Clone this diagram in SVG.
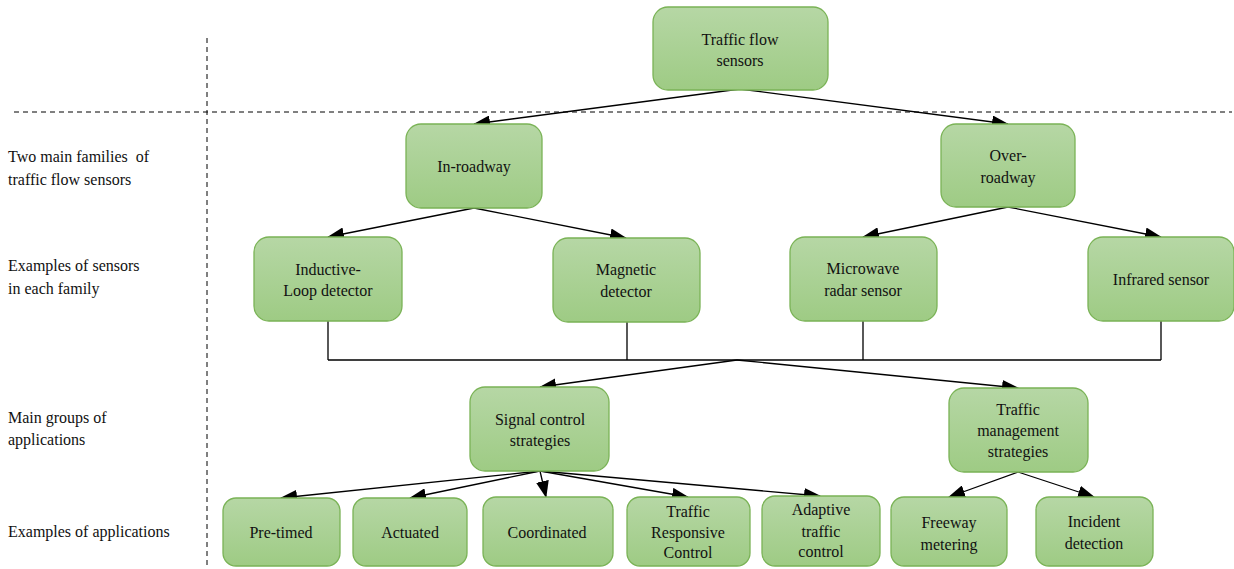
<svg xmlns="http://www.w3.org/2000/svg" width="1234" height="569" viewBox="0 0 1234 569">
<style>
.n{stroke:#7ab356;stroke-width:1.3;fill:url(#g)}
.t{font-family:"Times New Roman",Times,"Liberation Serif","Noto Serif",serif;font-size:16px;fill:#111;text-anchor:middle}
.l{font-family:"Times New Roman",Times,"Liberation Serif","Noto Serif",serif;font-size:16px;fill:#111}
.c{stroke:#000;stroke-width:1.3;fill:none}
.a{marker-end:url(#ar)}
.d{stroke:#000;stroke-width:1;stroke-dasharray:5,4;fill:none}
</style>
<defs>
<linearGradient id="g" x1="0" y1="0" x2="0" y2="1">
<stop offset="0" stop-color="#b6d7a5"/>
<stop offset="1" stop-color="#9ecb84"/>
</linearGradient>
<marker id="ar" markerWidth="17" markerHeight="13" refX="16" refY="6.5" orient="auto" markerUnits="userSpaceOnUse">
<path d="M0,0 L17,6.5 L0,13 z" fill="#000"/>
</marker>
</defs>
<rect width="1234" height="569" fill="#fff"/>
<g id="guides">
<line class="d" x1="207" y1="38" x2="207" y2="569"/>
<line class="d" x1="14" y1="112" x2="1232" y2="112"/>
</g>
<g id="labels">
<text class="l" x="8" y="162" xml:space="preserve">Two main families  of</text>
<text class="l" x="8" y="185">traffic flow sensors</text>
<text class="l" x="8" y="271">Examples of sensors</text>
<text class="l" x="8" y="294">in each family</text>
<text class="l" x="8" y="423">Main groups of</text>
<text class="l" x="8" y="445">applications</text>
<text class="l" x="8" y="537">Examples of applications</text>
</g>
<g id="connectors">
<path class="c a" d="M740,89 L474,124"/>
<path class="c a" d="M740,89 L1008,124"/>
<path class="c a" d="M474,208 L328,237"/>
<path class="c a" d="M474,208 L626,238"/>
<path class="c a" d="M1008,207 L863,237"/>
<path class="c a" d="M1008,207 L1161,237"/>
<path class="c" d="M328,321 V360 M627,322 V360 M863,321 V360 M1161,321 V360 M328,360 H1161"/>
<path class="c a" d="M737,360 L540,387"/>
<path class="c a" d="M737,360 L1018,388"/>
<path class="c a" d="M540,471 L281,498"/>
<path class="c a" d="M540,471 L410,498"/>
<path class="c a" d="M540,471 L546,497"/>
<path class="c a" d="M540,471 L688,497"/>
<path class="c a" d="M540,471 L820,496"/>
<path class="c a" d="M1018,472 L949,497"/>
<path class="c a" d="M1018,472 L1094,497"/>
</g>
<g id="n-traffic-flow-sensors"><rect class="n" x="653" y="7" width="175" height="83" rx="15"/><text class="t" x="740" y="45">Traffic flow</text><text class="t" x="740" y="66">sensors</text></g>
<g id="n-in-roadway"><rect class="n" x="406" y="124" width="136" height="84" rx="15"/><text class="t" x="474" y="172">In-roadway</text></g>
<g id="n-over-roadway"><rect class="n" x="941" y="124" width="134" height="83" rx="15"/><text class="t" x="1008" y="161">Over-</text><text class="t" x="1008" y="183">roadway</text></g>
<g id="n-inductive"><rect class="n" x="254" y="237" width="148" height="84" rx="15"/><text class="t" x="328" y="275">Inductive-</text><text class="t" x="328" y="296">Loop detector</text></g>
<g id="n-magnetic"><rect class="n" x="553" y="238" width="147" height="84" rx="15"/><text class="t" x="626" y="275">Magnetic</text><text class="t" x="626" y="297">detector</text></g>
<g id="n-microwave"><rect class="n" x="790" y="237" width="147" height="84" rx="15"/><text class="t" x="863" y="274">Microwave</text><text class="t" x="863" y="296">radar sensor</text></g>
<g id="n-infrared"><rect class="n" x="1088" y="237" width="146" height="84" rx="15"/><text class="t" x="1161" y="285">Infrared sensor</text></g>
<g id="n-signal-control"><rect class="n" x="470" y="387" width="139" height="84" rx="15"/><text class="t" x="540" y="425">Signal control</text><text class="t" x="540" y="446">strategies</text></g>
<g id="n-traffic-management"><rect class="n" x="949" y="388" width="139" height="84" rx="15"/><text class="t" x="1018" y="415">Traffic</text><text class="t" x="1018" y="436">management</text><text class="t" x="1018" y="457">strategies</text></g>
<g id="n-pre-timed"><rect class="n" x="223" y="498" width="117" height="68" rx="13"/><text class="t" x="281" y="538">Pre-timed</text></g>
<g id="n-actuated"><rect class="n" x="353" y="498" width="114" height="68" rx="13"/><text class="t" x="410" y="538">Actuated</text></g>
<g id="n-coordinated"><rect class="n" x="483" y="497" width="130" height="69" rx="13"/><text class="t" x="547" y="538">Coordinated</text></g>
<g id="n-traffic-responsive"><rect class="n" x="627" y="497" width="123" height="69" rx="13"/><text class="t" x="688" y="517">Traffic</text><text class="t" x="688" y="538">Responsive</text><text class="t" x="688" y="558">Control</text></g>
<g id="n-adaptive"><rect class="n" x="762" y="496" width="118" height="70" rx="13"/><text class="t" x="821" y="515">Adaptive</text><text class="t" x="821" y="537">traffic</text><text class="t" x="821" y="557">control</text></g>
<g id="n-freeway"><rect class="n" x="891" y="497" width="116" height="69" rx="13"/><text class="t" x="949" y="528">Freeway</text><text class="t" x="949" y="550">metering</text></g>
<g id="n-incident"><rect class="n" x="1036" y="497" width="117" height="69" rx="13"/><text class="t" x="1094" y="527">Incident</text><text class="t" x="1094" y="549">detection</text></g>
</svg>
